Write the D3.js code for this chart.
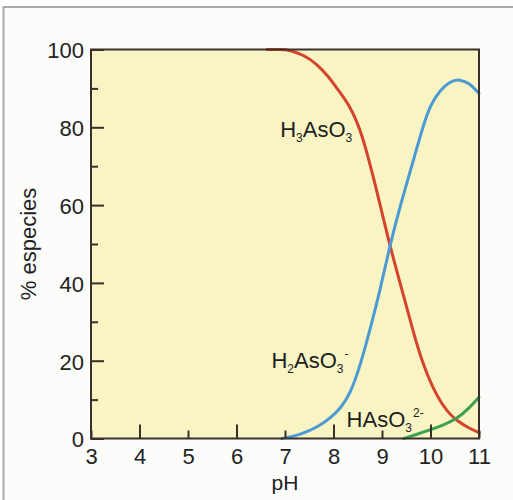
<!DOCTYPE html>
<html>
<head>
<meta charset="utf-8">
<script src="https://cdn.jsdelivr.net/npm/d3@7"></script>
<style>
  html, body { margin: 0; padding: 0; background: #ffffff; }
  svg { display: block; font-family: "Liberation Sans", Arial, Helvetica, sans-serif; }
</style>
</head>
<body>
<svg id="chart" width="513" height="500"></svg>
<script>
// ---- data ----
const xTicks = [3, 4, 5, 6, 7, 8, 9, 10, 11];
const yTicks = [0, 10, 20, 30, 40, 50, 60, 70, 80, 90, 100];

// H3AsO3 (red): [pH, %]
const h3aso3 = [[6.63,100],[6.9,100],[7.1,99.9],[7.38,98.6],[7.65,96.4],[7.9,93],[8.1,89.5],[8.34,85.5],
                [8.55,79.5],[8.7,73],[8.89,63.9],[9.16,49.5],[9.44,37],[9.65,27.1],[9.85,18.8],
                [10.13,10.8],[10.35,6.8],[10.54,4.6],[10.8,2.6],[11,1.5]];
// H2AsO3- (blue)
const h2aso3 = [[6.93,0],[7.2,0.6],[7.45,1.7],[7.7,3.2],[7.93,5.2],[8.15,7.8],[8.34,11.5],[8.52,17.5],
                [8.7,25.5],[8.96,38],[9.16,49.5],[9.37,59.6],[9.65,71.6],[9.85,80.5],[10,85.8],[10.2,89.6],
                [10.4,91.8],[10.6,92.4],[10.81,91.3],[11,88.7]];
// HAsO3 2- (green)
const haso3 = [[9.45,0],[9.7,1],[9.99,2.2],[10.25,3.4],[10.54,5],[10.8,7.8],[11,10.6]];

// species labels: [pH, %] anchor of text start/baseline
const speciesLabels = [
  { parts: [["H",""],["3","sub"],["AsO",""],["3","sub"]], at: [6.9, 77.5] },
  { parts: [["H",""],["2","sub"],["AsO",""],["3","sub"],["-","sup"]], at: [6.72, 18.1] },
  { parts: [["HAsO",""],["3","sub"],["2-","sup"]], at: [8.27, 3.0] }
];

// ---- drawing ----
const svg = d3.select("#chart");
const x = d3.scaleLinear().domain([3, 11]).range([91, 479]);
const y = d3.scaleLinear().domain([0, 100]).range([438.5, 49.5]);
const axisColor = "#3a302b";
const FS = 22;

// outer panel
svg.append("rect").attr("x", 3.5).attr("y", 7).attr("width", 510).attr("height", 494)
  .attr("fill", "#fcfcfb");
svg.append("path").attr("d", "M3.5,500 V7 H513")
  .attr("fill", "none").attr("stroke", "#a9a9a9").attr("stroke-width", 2);

// plot background
svg.append("rect")
  .attr("x", x(3)).attr("y", y(100))
  .attr("width", x(11) - x(3)).attr("height", y(0) - y(100))
  .attr("fill", "#f8f4c4");

// curves
const line = d3.line().x(d => x(d[0])).y(d => y(d[1])).curve(d3.curveBasis);
const series = [
  { data: h3aso3, color: "#d5432b" },
  { data: h2aso3, color: "#4b9ad3" },
  { data: haso3, color: "#3c9f52" }
];
svg.append("g").selectAll("path").data(series).join("path")
  .attr("d", d => line(d.data))
  .attr("fill", "none")
  .attr("stroke", d => d.color)
  .attr("stroke-width", 3)
  .attr("stroke-linecap", "round");

// frame
svg.append("rect")
  .attr("x", x(3)).attr("y", y(100))
  .attr("width", x(11) - x(3)).attr("height", y(0) - y(100))
  .attr("fill", "none").attr("stroke", axisColor).attr("stroke-width", 2);

// x axis
const xAxis = svg.append("g").attr("transform", `translate(0,${y(0)})`)
  .call(d3.axisBottom(x).tickValues(xTicks).tickSize(-14).tickSizeOuter(0).tickPadding(9.5).tickFormat(d3.format("d")));
xAxis.select(".domain").remove();
xAxis.selectAll(".tick line")
  .attr("y2", d => (d % 2 === 0 ? -14 : -8))
  .attr("stroke", axisColor).attr("stroke-width", 2);
xAxis.selectAll(".tick text").attr("font-size", FS).attr("fill", "#222")
  .attr("font-family", "'Liberation Sans', Arial, sans-serif");

// y axis
const yAxis = svg.append("g").attr("transform", `translate(${x(3)},0)`)
  .call(d3.axisLeft(y).tickValues(yTicks).tickSize(-13).tickSizeOuter(0).tickPadding(7)
    .tickFormat(d => (d % 20 === 0 ? d : "")));
yAxis.select(".domain").remove();
yAxis.selectAll(".tick line")
  .attr("x2", d => (d % 20 === 0 ? 13 : 7))
  .attr("stroke", axisColor).attr("stroke-width", 2);
yAxis.selectAll(".tick text").attr("font-size", FS).attr("fill", "#222").attr("dy", "0.38em")
  .attr("font-family", "'Liberation Sans', Arial, sans-serif");

// axis titles
svg.append("text")
  .attr("x", (x(3) + x(11)) / 2).attr("y", 490)
  .attr("text-anchor", "middle").attr("font-size", 21).attr("fill", "#222")
  .text("pH");
svg.append("text")
  .attr("transform", `translate(36,${(y(0) + y(100)) / 2}) rotate(-90)`)
  .attr("text-anchor", "middle").attr("font-size", FS).attr("fill", "#222")
  .text("% especies");

// species labels
speciesLabels.forEach(l => {
  const t = svg.append("text")
    .attr("x", x(l.at[0])).attr("y", y(l.at[1]))
    .attr("font-size", FS).attr("fill", "#1e1e1e");
  let cum = 0;
  l.parts.forEach(([s, kind]) => {
    const want = kind === "sub" ? 5 : (kind === "sup" ? -10 : 0);
    const ts = t.append("tspan").text(s).attr("dy", want - cum);
    if (kind === "sub" || kind === "sup") ts.attr("font-size", 12);
    if (kind === "sup") ts.attr("dx", 1);
    cum = want;
  });
});
</script>
</body>
</html>
